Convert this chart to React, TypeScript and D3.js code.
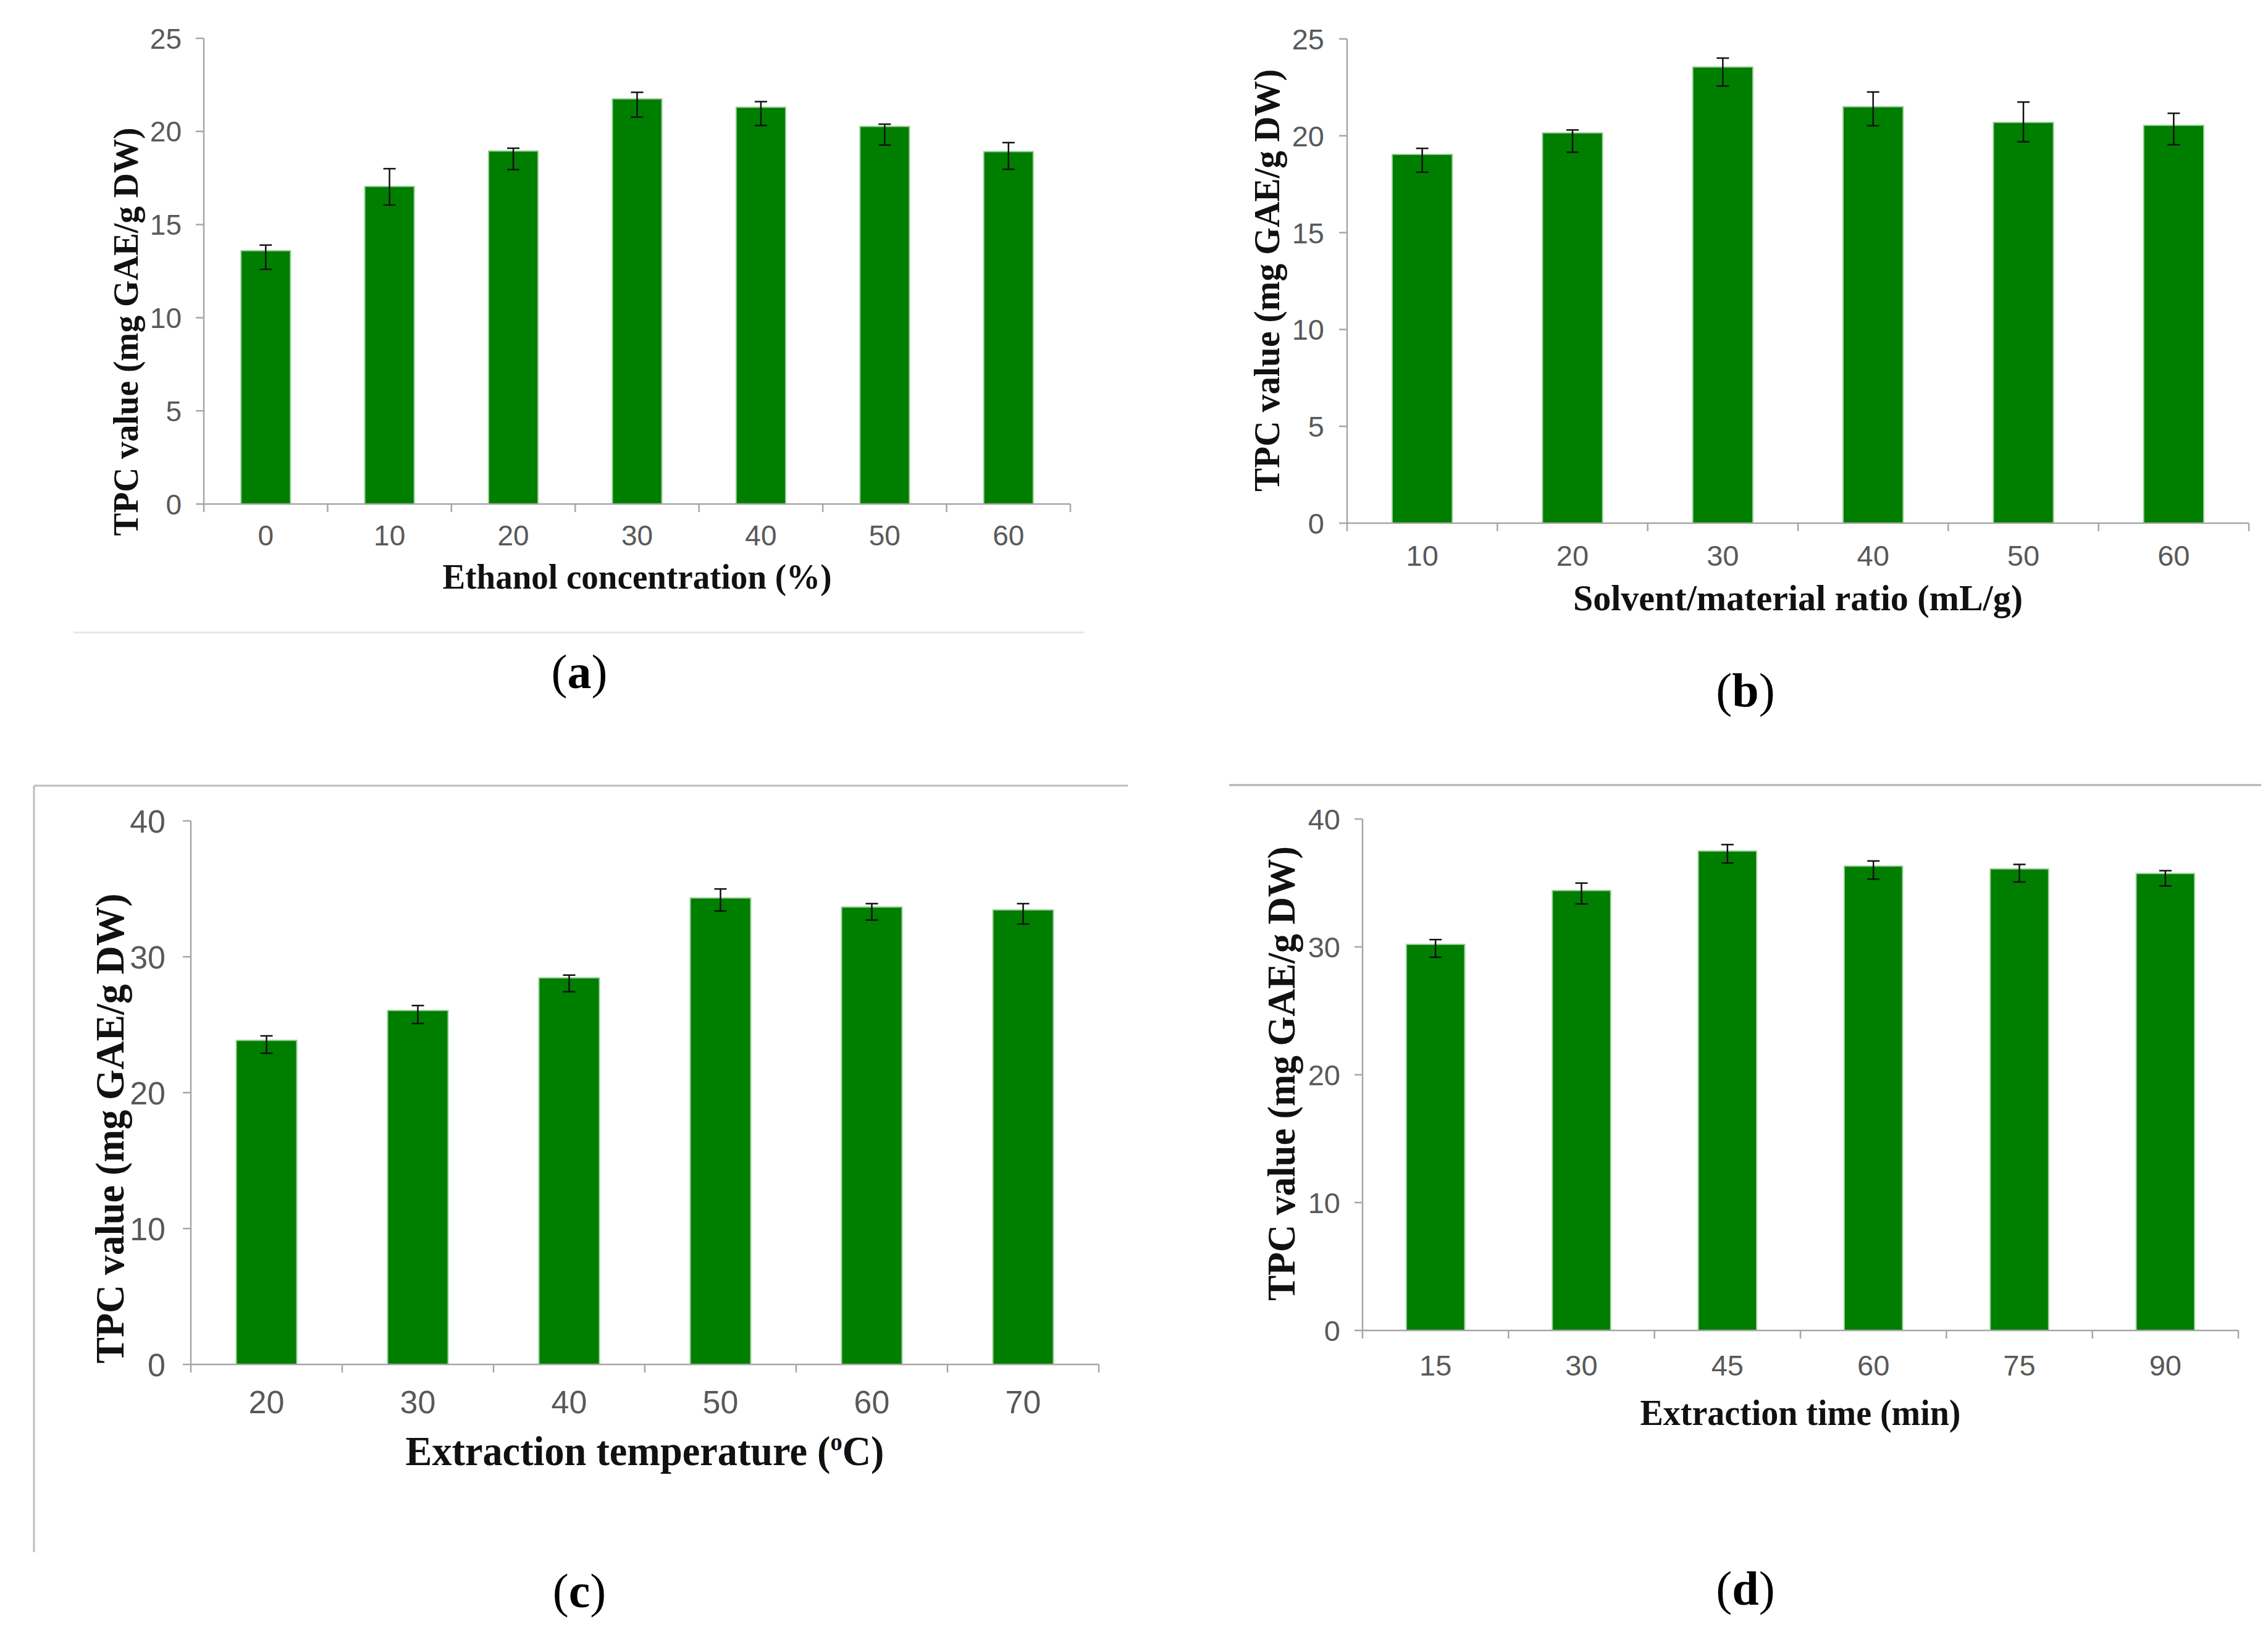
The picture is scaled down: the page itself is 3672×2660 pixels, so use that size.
import React from "react";
import * as d3 from "d3";

// (a) ethanol concentration
const ethanolLabels = ["0", "10", "20", "30", "40", "50", "60"];
const ethanolTPC = [13.6, 17.05, 18.95, 21.75, 21.3, 20.27, 18.92];
const ethanolErrUp = [0.3, 0.95, 0.15, 0.35, 0.3, 0.12, 0.48];
const ethanolErrDown = [1.0, 1.0, 1.0, 0.98, 0.98, 1.0, 0.95];

// (b) solvent/material ratio
const ratioLabels = ["10", "20", "30", "40", "50", "60"];
const ratioTPC = [19.04, 20.15, 23.55, 21.5, 20.69, 20.54];
const ratioErrUp = [0.31, 0.15, 0.46, 0.76, 1.05, 0.62];
const ratioErrDown = [0.92, 1.0, 0.98, 0.98, 1.0, 1.0];

// (c) extraction temperature
const tempLabels = ["20", "30", "40", "50", "60", "70"];
const tempTPC = [23.85, 26.05, 28.45, 34.33, 33.66, 33.45];
const tempErrUp = [0.33, 0.36, 0.2, 0.66, 0.25, 0.46];
const tempErrDown = [0.95, 0.96, 1.02, 0.96, 0.96, 1.04];

// (d) extraction time
const timeLabels = ["15", "30", "45", "60", "75", "90"];
const timeTPC = [30.2, 34.41, 37.5, 36.32, 36.1, 35.74];
const timeErrUp = [0.37, 0.58, 0.5, 0.4, 0.35, 0.22];
const timeErrDown = [1.01, 1.05, 0.94, 1.02, 1.02, 0.97];

const yTitle = "TPC value (mg GAE/g DW)";

const SANS = "'Liberation Sans', Arial, sans-serif";
const SERIF = "'Liberation Serif', 'Times New Roman', serif";
const BAR = "#007e00";
const AXIS = "#a6a6a6";
const TICK_TEXT = "#595959";

interface PanelProps {
  labels: string[];
  values: number[];
  errUp: number[];
  errDown: number[];
  yMax: number;
  yStep: number;
  box: { left: number; right: number; top: number; bottom: number };
  tickFont: number;
  labelGap: number;
  xLabelDy: number;
  xTitle: React.ReactNode;
  xTitleY: number;
  xTitleSize: number;
  xTitleLen: number;
  yTitleX: number;
  yTitleY: number;
  yTitleSize: number;
  yTitleLen: number;
  tag: string;
  tagX: number;
  tagY: number;
}

const Panel: React.FC<PanelProps> = (p) => {
  const { left, right, top, bottom } = p.box;
  const x = d3
    .scaleBand<string>()
    .domain(p.labels)
    .range([left, right])
    .paddingInner(0.6)
    .paddingOuter(0.3);
  const y = d3.scaleLinear().domain([0, p.yMax]).range([bottom, top]);
  const step = x.step();
  const yTicks = d3.range(0, p.yMax + p.yStep / 2, p.yStep);
  const bounds = d3.range(p.labels.length + 1).map((i) => left + i * step);

  return (
    <g>
      {/* bars */}
      {p.labels.map((l, i) => (
        <rect
          key={`bar-${l}`}
          x={x(l)}
          y={y(p.values[i])}
          width={x.bandwidth()}
          height={bottom - y(p.values[i])}
          fill={BAR}
          stroke="#9fd09f"
          strokeWidth={2}
        />
      ))}

      {/* error bars */}
      {p.labels.map((l, i) => {
        const cx = (x(l) ?? 0) + x.bandwidth() / 2;
        const y1 = y(p.values[i] + p.errUp[i]);
        const y2 = y(p.values[i] - p.errDown[i]);
        return (
          <g key={`err-${l}`} stroke="#111" strokeWidth={2.5}>
            <line x1={cx} x2={cx} y1={y1} y2={y2} />
            <line x1={cx - 10} x2={cx + 10} y1={y1} y2={y1} />
            <line x1={cx - 10} x2={cx + 10} y1={y2} y2={y2} />
          </g>
        );
      })}

      {/* y axis */}
      <line x1={left} x2={left} y1={top} y2={bottom} stroke={AXIS} strokeWidth={2.5} />
      {yTicks.map((t) => (
        <g key={`yt-${t}`}>
          <line x1={left - 13} x2={left} y1={y(t)} y2={y(t)} stroke={AXIS} strokeWidth={2.5} />
          <text
            x={left - p.labelGap}
            y={y(t)}
            dy="0.36em"
            textAnchor="end"
            fontFamily={SANS}
            fontSize={p.tickFont}
            fill={TICK_TEXT}
          >
            {t}
          </text>
        </g>
      ))}

      {/* x axis */}
      <line x1={left} x2={right} y1={bottom} y2={bottom} stroke={AXIS} strokeWidth={2.5} />
      {bounds.map((bx, i) => (
        <line key={`xt-${i}`} x1={bx} x2={bx} y1={bottom} y2={bottom + 13} stroke={AXIS} strokeWidth={2.5} />
      ))}
      {p.labels.map((l) => (
        <text
          key={`xl-${l}`}
          x={(x(l) ?? 0) + x.bandwidth() / 2}
          y={bottom + p.xLabelDy}
          textAnchor="middle"
          fontFamily={SANS}
          fontSize={p.tickFont}
          fill={TICK_TEXT}
        >
          {l}
        </text>
      ))}

      {/* axis titles */}
      <text
        x={(left + right) / 2}
        y={p.xTitleY}
        textAnchor="middle"
        fontFamily={SERIF}
        fontWeight="bold"
        fontSize={p.xTitleSize}
        textLength={p.xTitleLen}
        lengthAdjust="spacingAndGlyphs"
        fill="#111"
      >
        {p.xTitle}
      </text>
      <text
        transform={`translate(${p.yTitleX},${p.yTitleY}) rotate(-90)`}
        textAnchor="middle"
        fontFamily={SERIF}
        fontWeight="bold"
        fontSize={p.yTitleSize}
        textLength={p.yTitleLen}
        lengthAdjust="spacingAndGlyphs"
        fill="#111"
      >
        {yTitle}
      </text>

      {/* panel tag */}
      <text x={p.tagX} y={p.tagY} textAnchor="middle" fontFamily={SERIF} fontSize={78} fill="#000">
        (<tspan fontWeight="bold">{p.tag}</tspan>)
      </text>
    </g>
  );
};

export default function App() {
  return (
    <div style={{ position: "absolute", left: 0, top: 0 }}>
      <svg width={3672} height={2660} style={{ display: "block", background: "#fff" }}>
        {/* frame lines from the source figure */}
        <line x1={119} x2={1756} y1={1024} y2={1024} stroke="#e6e6e6" strokeWidth={3} />
        <line x1={55} x2={1826} y1={1272} y2={1272} stroke="#bdbdbd" strokeWidth={3} />
        <line x1={55} x2={55} y1={1272} y2={2513} stroke="#bdbdbd" strokeWidth={3} />
        <line x1={1990} x2={3661} y1={1271} y2={1271} stroke="#b0b0b0" strokeWidth={3} />

        <Panel
          labels={ethanolLabels}
          values={ethanolTPC}
          errUp={ethanolErrUp}
          errDown={ethanolErrDown}
          yMax={25}
          yStep={5}
          box={{ left: 330, right: 1733, top: 62, bottom: 816 }}
          tickFont={46}
          labelGap={36}
          xLabelDy={67}
          xTitle="Ethanol concentration (%)"
          xTitleY={953}
          xTitleSize={58}
          xTitleLen={630}
          yTitleX={223}
          yTitleY={537}
          yTitleSize={58}
          yTitleLen={661}
          tag="a"
          tagX={938}
          tagY={1114}
        />
        <Panel
          labels={ratioLabels}
          values={ratioTPC}
          errUp={ratioErrUp}
          errDown={ratioErrDown}
          yMax={25}
          yStep={5}
          box={{ left: 2181, right: 3641, top: 63, bottom: 847 }}
          tickFont={47}
          labelGap={37}
          xLabelDy={69}
          xTitle="Solvent/material ratio (mL/g)"
          xTitleY={988}
          xTitleSize={60}
          xTitleLen={728}
          yTitleX={2071}
          yTitleY={454}
          yTitleSize={60}
          yTitleLen={684}
          tag="b"
          tagX={2826}
          tagY={1144}
        />
        <Panel
          labels={tempLabels}
          values={tempTPC}
          errUp={tempErrUp}
          errDown={tempErrDown}
          yMax={40}
          yStep={10}
          box={{ left: 309, right: 1779, top: 1329, bottom: 2209 }}
          tickFont={52}
          labelGap={41}
          xLabelDy={79}
          xTitle={
            <>
              Extraction temperature (
              <tspan fontSize={40} dy={-24}>o</tspan>
              <tspan dy={24}>C)</tspan>
            </>
          }
          xTitleY={2372}
          xTitleSize={67}
          xTitleLen={775}
          yTitleX={200}
          yTitleY={1827}
          yTitleSize={66}
          yTitleLen={761}
          tag="c"
          tagX={938}
          tagY={2602}
        />
        <Panel
          labels={timeLabels}
          values={timeTPC}
          errUp={timeErrUp}
          errDown={timeErrDown}
          yMax={40}
          yStep={10}
          box={{ left: 2206, right: 3624, top: 1326, bottom: 2154 }}
          tickFont={47}
          labelGap={36}
          xLabelDy={73}
          xTitle="Extraction time (min)"
          xTitleY={2307}
          xTitleSize={59}
          xTitleLen={519}
          yTitleX={2096}
          yTitleY={1738}
          yTitleSize={64}
          yTitleLen={736}
          tag="d"
          tagX={2826}
          tagY={2598}
        />
      </svg>
    </div>
  );
}
